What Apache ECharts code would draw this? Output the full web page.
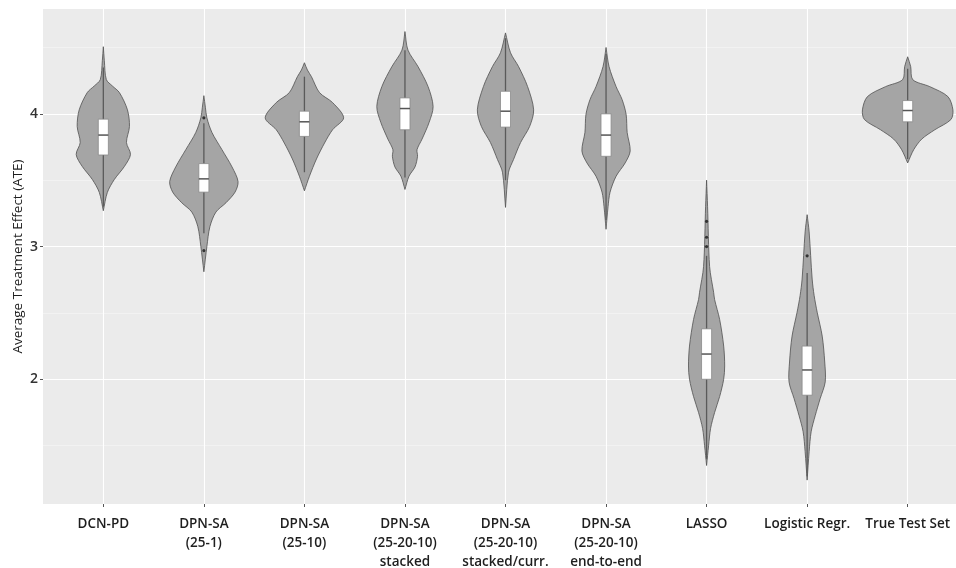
<!DOCTYPE html>
<html>
<head>
<meta charset="utf-8">
<script src="https://cdn.jsdelivr.net/npm/echarts@6/dist/echarts.min.js"></script>
<style>
html,body{margin:0;padding:0;background:#fff;}
#chart{width:956px;height:568px;}
</style>
</head>
<body>
<div id="chart"></div>
<script>
// Categories (x axis tick labels)
const categories = [
  'DCN-PD',
  'DPN-SA\n(25-1)',
  'DPN-SA\n(25-10)',
  'DPN-SA\n(25-20-10)\nstacked',
  'DPN-SA\n(25-20-10)\nstacked/curr.',
  'DPN-SA\n(25-20-10)\nend-to-end',
  'LASSO',
  'Logistic Regr.',
  'True Test Set'
];
const yTickValues = [2, 3, 4];
const yMinorValues = [1.5, 2.5, 3.5, 4.5];

// Violin outlines: [ATE value, half-width (in category units)]
const violinDCNPD = [[4.506,0],[4.40,0.01],[4.258,0.03],[4.21,0.09],[4.16,0.16],[4.03,0.24],[3.905,0.26],[3.784,0.23],[3.694,0.27],[3.604,0.21],[3.506,0.11],[3.408,0.04],[3.27,0]];
const violin25_1 = [[4.137,0],[4.05,0.015],[3.97,0.03],[3.86,0.08],[3.73,0.18],[3.60,0.28],[3.49,0.34],[3.41,0.31],[3.33,0.22],[3.26,0.12],[3.15,0.06],[3.00,0.03],[2.81,0]];
const violin25_10 = [[4.385,0],[4.33,0.03],[4.28,0.07],[4.16,0.15],[4.085,0.28],[3.97,0.39],[3.88,0.28],[3.78,0.20],[3.66,0.12],[3.53,0.05],[3.42,0]];
const violinStacked = [[4.62,0],[4.48,0.03],[4.356,0.13],[4.205,0.23],[4.055,0.28],[3.935,0.24],[3.81,0.17],[3.73,0.12],[3.68,0.125],[3.60,0.10],[3.53,0.04],[3.43,0]];
const violinStackedCurr = [[4.61,0],[4.46,0.05],[4.356,0.13],[4.205,0.22],[4.03,0.28],[3.905,0.24],[3.784,0.15],[3.656,0.08],[3.56,0.03],[3.295,0]];
const violinEndToEnd = [[4.50,0],[4.356,0.03],[4.205,0.10],[4.107,0.16],[3.995,0.20],[3.86,0.21],[3.72,0.24],[3.63,0.19],[3.53,0.10],[3.41,0.04],[3.30,0.02],[3.13,0]];
const violinLASSO = [[3.50,0],[3.30,0.01],[2.85,0.03],[2.655,0.07],[2.60,0.08],[2.45,0.13],[2.25,0.17],[2.10,0.18],[2.00,0.17],[1.87,0.13],[1.75,0.08],[1.63,0.04],[1.50,0.02],[1.35,0]];
const violinLogistic = [[3.24,0],[3.11,0.02],[2.755,0.05],[2.63,0.07],[2.505,0.10],[2.325,0.15],[2.13,0.175],[1.98,0.18],[1.855,0.13],[1.725,0.08],[1.605,0.04],[1.455,0.02],[1.24,0]];
const violinTrue = [[4.43,0],[4.356,0.03],[4.258,0.05],[4.205,0.22],[4.13,0.40],[4.03,0.45],[3.957,0.43],[3.88,0.27],[3.81,0.14],[3.73,0.06],[3.63,0]];

// Boxplot statistics
const q1Values     = [3.69, 3.41, 3.83, 3.88, 3.90, 3.68, 2.00, 1.88, 3.94];
const medianValues = [3.84, 3.51, 3.94, 4.04, 4.02, 3.84, 2.19, 2.07, 4.025];
const q3Values     = [3.96, 3.625, 4.02, 4.12, 4.17, 4.00, 2.38, 2.25, 4.10];
const whiskerLow   = [3.30, 3.10, 3.56, 3.52, 3.50, 3.20, 1.40, 1.27, 3.66];
const whiskerHigh  = [4.35, 3.93, 4.28, 4.48, 4.57, 4.45, 2.93, 2.80, 4.34];
const outliers     = [[], [3.97, 2.97], [], [], [], [], [3.00, 3.07, 3.19], [2.93], []];

const violins = [violinDCNPD, violin25_1, violin25_10, violinStacked, violinStackedCurr, violinEndToEnd, violinLASSO, violinLogistic, violinTrue];
const positions = categories.map((c, i) => i + 1);

const chart = echarts.init(document.getElementById('chart'), null, {renderer: 'canvas'});
const FONT = '"Open Sans", "Noto Sans", sans-serif';

function renderItem(params, api) {
  const i = params.dataIndex;
  const x = api.value(0);
  const v = violins[i];
  const right = v.map(p => api.coord([x + p[1], p[0]]));
  const left = v.slice().reverse().map(p => api.coord([x - p[1], p[0]]));
  const children = [];
  children.push({
    type: 'polygon',
    shape: {points: right.concat(left), smooth: 0.3},
    style: {fill: '#a5a5a5', stroke: '#505050', lineWidth: 0.8}
  });
  const wl = api.coord([x, whiskerLow[i]]);
  const wh = api.coord([x, whiskerHigh[i]]);
  children.push({type: 'line', shape: {x1: wl[0], y1: wl[1], x2: wh[0], y2: wh[1]}, style: {stroke: '#5a5a5a', lineWidth: 1.3}});
  const bw = 0.05;
  const tl = api.coord([x - bw, q3Values[i]]);
  const br = api.coord([x + bw, q1Values[i]]);
  children.push({type: 'rect', shape: {x: tl[0], y: tl[1], width: br[0] - tl[0], height: br[1] - tl[1]}, style: {fill: '#ffffff', stroke: '#8a8a8a', lineWidth: 0.8}});
  const ml = api.coord([x - bw, medianValues[i]]);
  const mr = api.coord([x + bw, medianValues[i]]);
  children.push({type: 'line', shape: {x1: ml[0], y1: ml[1], x2: mr[0], y2: mr[1]}, style: {stroke: '#555555', lineWidth: 1.5}});
  outliers[i].forEach(o => {
    const c = api.coord([x, o]);
    children.push({type: 'circle', shape: {cx: c[0], cy: c[1], r: 1.6}, style: {fill: '#333333'}});
  });
  return {type: 'group', children: children};
}

const option = {
  animation: false,
  grid: {left: 43, top: 9, right: -12, bottom: 64, show: true, backgroundColor: '#ebebeb', borderWidth: 0, containLabel: false, outerBoundsMode: 'none'},
  xAxis: {
    type: 'value', min: 0.4, max: 9.6,
    axisLine: {show: false},
    axisTick: {show: true, customValues: positions, length: 3, lineStyle: {color: '#555', width: 1}},
    axisLabel: {
      customValues: positions, margin: 11,
      formatter: val => categories[Math.round(val) - 1] || '',
      color: '#1e1e1e', fontSize: 13.5, fontWeight: 600, lineHeight: 19, fontFamily: FONT, align: 'center'
    },
    splitLine: {show: true, lineStyle: {color: '#ffffff', width: 1.1}}
  },
  yAxis: [{
    type: 'value', min: 1.06, max: 4.79,
    axisLine: {show: false},
    axisTick: {show: true, customValues: yTickValues, length: 3, lineStyle: {color: '#555', width: 1}},
    axisLabel: {customValues: yTickValues, margin: 5, color: '#333', fontSize: 14, fontWeight: 600, fontFamily: FONT},
    splitLine: {show: true, lineStyle: {color: '#ffffff', width: 1.1}},
    name: 'Average Treatment Effect (ATE)', nameLocation: 'middle', nameGap: 18, nameMoveOverlap: false,
    nameTextStyle: {color: '#1e1e1e', fontSize: 13.5, fontFamily: FONT}
  }, {
    type: 'value', min: 1.06, max: 4.79, position: 'left',
    axisLine: {show: false},
    axisTick: {show: false, customValues: yMinorValues},
    axisLabel: {show: false, customValues: yMinorValues},
    splitLine: {show: true, lineStyle: {color: '#f6f6f6', width: 0.6}}
  }],
  series: [{
    type: 'custom',
    renderItem: renderItem,
    encode: {x: 0, y: 1},
    data: positions.map((p, i) => [p, medianValues[i]]),
    z: 5
  }]
};
chart.setOption(option);
</script>
</body>
</html>
